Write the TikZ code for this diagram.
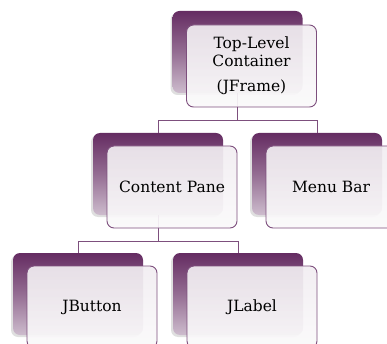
\documentclass[tikz,border=0pt]{standalone}
\usepackage{fontspec}
\setmainfont{DejaVu Serif}
\usetikzlibrary{shadows}
\definecolor{plumdark}{HTML}{652C62}
\definecolor{plumlight}{HTML}{CDBCCD}
\definecolor{plumline}{HTML}{7D4F7D}
\definecolor{paneltop}{HTML}{F1EDF1}
\definecolor{panelbot}{HTML}{FAF9FA}

\begin{document}
\begin{tikzpicture}[x=1pt, y=-1pt,
  backbox/.style={rounded corners=7pt, minimum width=130pt, minimum height=82pt,
    top color=plumdark, bottom color=plumlight, middle color=plumdark!55!plumlight,
    drop shadow={opacity=0.25, shadow xshift=-2pt, shadow yshift=-2pt}},
  frontbox/.style={draw=plumline, line width=0.9pt, rounded corners=7pt,
    minimum width=130pt, minimum height=82pt, top color=paneltop, bottom color=panelbot,
    fill opacity=0.92, text opacity=1, align=center, font=\fontsize{15.5}{18}\selectfont},
  link/.style={draw=plumline, line width=0.9pt}]
\useasboundingbox (0,0) rectangle (387,344);
\clip (0,0) rectangle (387,344);
% back panels
\node[backbox] (topb) at (237.5,52) {};
\node[backbox] (paneb) at (158,174) {};
\node[backbox] (menub) at (317,174) {};
\node[backbox] (buttonb) at (78,294) {};
\node[backbox] (labelb) at (238,294) {};
% tree lines
\draw[link] (topb.south) -- ++(0,27) -| (paneb.north);
\draw[link] (topb.south) -- ++(0,27) -| (menub.north);
\draw[link] (paneb.south) -- ++(0,26) -| (buttonb.north);
\draw[link] (paneb.south) -- ++(0,26) -| (labelb.north);
% front panels
\node[frontbox] (top) at (251.5,66) {Top-Level\\Container\\[7pt](JFrame)};
\node[frontbox] (pane) at (172,187) {Content Pane};
\node[frontbox] (menu) at (331,187) {Menu Bar};
\node[frontbox] (button) at (92,307) {JButton};
\node[frontbox] (label) at (252,307) {JLabel};
\end{tikzpicture}
\end{document}
